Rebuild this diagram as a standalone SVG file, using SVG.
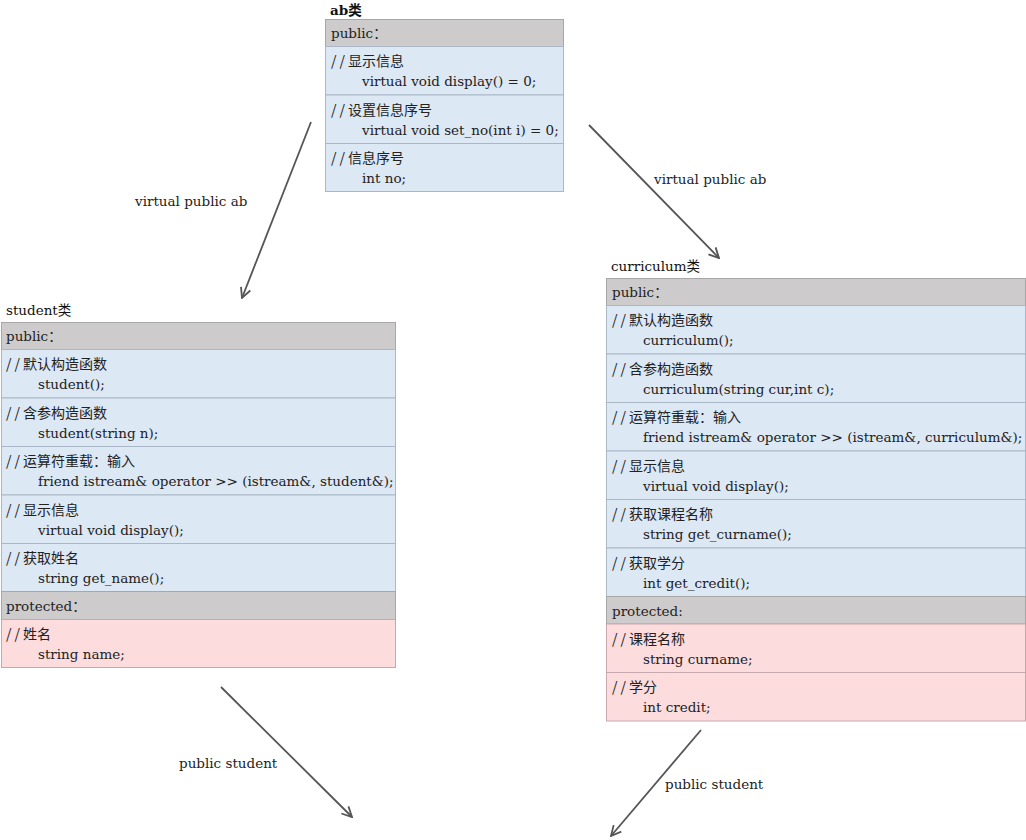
<svg xmlns="http://www.w3.org/2000/svg" width="1026" height="840" viewBox="0 0 1026 840">
<defs>
<marker id="arr" viewBox="0 0 12 12" refX="11" refY="6" markerWidth="12" markerHeight="12" markerUnits="userSpaceOnUse" orient="auto">
<path d="M1,1 L11,6 L1,11" fill="none" stroke="#555" stroke-width="1.8"/>
</marker>
<style>
.hd{fill:#cdcbcb;stroke:#a7a7a7;stroke-width:1}
.pub{fill:#dce8f4;stroke:#a9b7c6;stroke-width:1}
.pro{fill:#fcdcdd;stroke:#c6a9ad;stroke-width:1}
.cm{font-family:"Noto Sans CJK SC","Noto Sans",sans-serif;font-size:14px;fill:#222}
.cd{font-family:"DejaVu Serif","Liberation Serif",serif;font-size:13.5px;fill:#222}
.hdt{font-family:"DejaVu Serif","Noto Sans CJK SC",serif;font-size:13.5px;fill:#222}
.tt{font-family:"DejaVu Serif","Noto Sans CJK SC",serif;font-size:13.5px;fill:#111}
.lbl{font-family:"DejaVu Serif","Liberation Serif",serif;font-size:13.5px;fill:#222}
.sl{letter-spacing:3px}
.edge{fill:none;stroke:#555;stroke-width:1.8;marker-end:url(#arr)}
</style>
</defs>
<rect width="1026" height="840" fill="#fff"/>

<g id="ab">
<text class="tt" x="330" y="15" font-size="12.5px" font-weight="bold">ab<tspan font-family="Noto Sans CJK SC, sans-serif">类</tspan></text>
<rect class="hd" x="325.5" y="19.5" width="238" height="27"/>
<text class="hdt" x="331" y="38">public<tspan font-family="Noto Sans CJK SC, sans-serif">：</tspan></text>
<rect class="pub" x="325.5" y="46.5" width="238" height="48.5"/>
<text class="cm" x="331" y="66"><tspan class="sl">//</tspan>显示信息</text>
<text class="cd" x="362" y="86">virtual void display() = 0;</text>
<rect class="pub" x="325.5" y="95" width="238" height="48.5"/>
<text class="cm" x="331" y="114.5"><tspan class="sl">//</tspan>设置信息序号</text>
<text class="cd" x="362" y="134.5">virtual void set_no(int i) = 0;</text>
<rect class="pub" x="325.5" y="143.5" width="238" height="48"/>
<text class="cm" x="331" y="163"><tspan class="sl">//</tspan>信息序号</text>
<text class="cd" x="362" y="183">int no;</text>
</g>

<g id="student">
<text class="tt" x="6" y="315">student<tspan font-family="Noto Sans CJK SC, sans-serif">类</tspan></text>
<rect class="hd" x="1.5" y="322.5" width="394" height="27"/>
<text class="hdt" x="6" y="341">public<tspan font-family="Noto Sans CJK SC, sans-serif">：</tspan></text>
<rect class="pub" x="1.5" y="349.5" width="394" height="48.5"/>
<text class="cm" x="6" y="369"><tspan class="sl">//</tspan>默认构造函数</text>
<text class="cd" x="38" y="389">student();</text>
<rect class="pub" x="1.5" y="398" width="394" height="48.5"/>
<text class="cm" x="6" y="417.5"><tspan class="sl">//</tspan>含参构造函数</text>
<text class="cd" x="38" y="437.5">student(string n);</text>
<rect class="pub" x="1.5" y="446.5" width="394" height="48.5"/>
<text class="cm" x="6" y="466"><tspan class="sl">//</tspan>运算符重载：输入</text>
<text class="cd" x="38" y="486">friend istream&amp; operator &gt;&gt; (istream&amp;, student&amp;);</text>
<rect class="pub" x="1.5" y="495" width="394" height="48.5"/>
<text class="cm" x="6" y="514.5"><tspan class="sl">//</tspan>显示信息</text>
<text class="cd" x="38" y="534.5">virtual void display();</text>
<rect class="pub" x="1.5" y="543.5" width="394" height="48"/>
<text class="cm" x="6" y="563"><tspan class="sl">//</tspan>获取姓名</text>
<text class="cd" x="38" y="583">string get_name();</text>
<rect class="hd" x="1.5" y="591.5" width="394" height="28"/>
<text class="hdt" x="6" y="611">protected<tspan font-family="Noto Sans CJK SC, sans-serif">：</tspan></text>
<rect class="pro" x="1.5" y="619.5" width="394" height="48"/>
<text class="cm" x="6" y="639"><tspan class="sl">//</tspan>姓名</text>
<text class="cd" x="38" y="659">string name;</text>
</g>

<g id="curriculum">
<text class="tt" x="611" y="271">curriculum<tspan font-family="Noto Sans CJK SC, sans-serif">类</tspan></text>
<rect class="hd" x="606.5" y="278.5" width="419" height="27"/>
<text class="hdt" x="612" y="297">public<tspan font-family="Noto Sans CJK SC, sans-serif">：</tspan></text>
<rect class="pub" x="606.5" y="305.5" width="419" height="48.5"/>
<text class="cm" x="612" y="325"><tspan class="sl">//</tspan>默认构造函数</text>
<text class="cd" x="643" y="345">curriculum();</text>
<rect class="pub" x="606.5" y="354" width="419" height="48.5"/>
<text class="cm" x="612" y="373.5"><tspan class="sl">//</tspan>含参构造函数</text>
<text class="cd" x="643" y="393.5">curriculum(string cur,int c);</text>
<rect class="pub" x="606.5" y="402.5" width="419" height="48.5"/>
<text class="cm" x="612" y="422"><tspan class="sl">//</tspan>运算符重载：输入</text>
<text class="cd" x="643" y="442">friend istream&amp; operator &gt;&gt; (istream&amp;, curriculum&amp;);</text>
<rect class="pub" x="606.5" y="451" width="419" height="48.5"/>
<text class="cm" x="612" y="470.5"><tspan class="sl">//</tspan>显示信息</text>
<text class="cd" x="643" y="490.5">virtual void display();</text>
<rect class="pub" x="606.5" y="499.5" width="419" height="48.5"/>
<text class="cm" x="612" y="519"><tspan class="sl">//</tspan>获取课程名称</text>
<text class="cd" x="643" y="539">string get_curname();</text>
<rect class="pub" x="606.5" y="548" width="419" height="48.5"/>
<text class="cm" x="612" y="567.5"><tspan class="sl">//</tspan>获取学分</text>
<text class="cd" x="643" y="587.5">int get_credit();</text>
<rect class="hd" x="606.5" y="596.5" width="419" height="27.5"/>
<text class="hdt" x="612" y="616">protected:</text>
<rect class="pro" x="606.5" y="624" width="419" height="48.5"/>
<text class="cm" x="612" y="643.5"><tspan class="sl">//</tspan>课程名称</text>
<text class="cd" x="643" y="663.5">string curname;</text>
<rect class="pro" x="606.5" y="672.5" width="419" height="48.5"/>
<text class="cm" x="612" y="692"><tspan class="sl">//</tspan>学分</text>
<text class="cd" x="643" y="712">int credit;</text>
</g>

<g id="connectors">
<line class="edge" x1="311" y1="122" x2="242" y2="298"/>
<text class="lbl" x="135" y="206">virtual public ab</text>
<line class="edge" x1="589" y1="125" x2="719" y2="258"/>
<text class="lbl" x="654" y="184">virtual public ab</text>
<line class="edge" x1="221" y1="687" x2="352" y2="817"/>
<text class="lbl" x="179" y="768">public student</text>
<line class="edge" x1="701" y1="730" x2="611" y2="836"/>
<text class="lbl" x="665" y="789">public student</text>
</g>
</svg>
